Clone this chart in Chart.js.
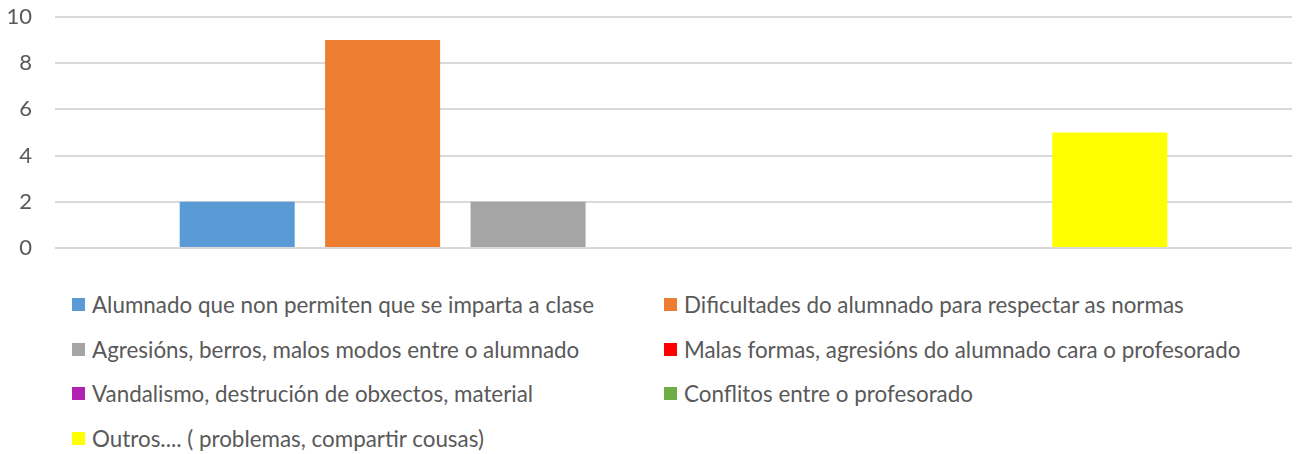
<!DOCTYPE html>
<html>
<head>
<meta charset="utf-8">
<script src="https://cdn.jsdelivr.net/npm/chart.js@4/dist/chart.umd.min.js"></script>
<style>
  html, body { margin: 0; padding: 0; background: #fff; }
  #wrap { position: relative; width: 1299px; height: 454px; }
  #chart { position: absolute; left: 0; top: 0; }
  #legend {
    position: absolute; left: 72px; top: 282px;
    display: grid; grid-template-columns: 592px 600px;
    grid-auto-rows: 44.7px;
    font-family: Lato, "Open Sans", sans-serif; font-size: 22.4px; color: #595959;
  }
  #legend .item { display: flex; align-items: center; white-space: nowrap; }
  #legend .box { width: 13px; height: 13px; margin-right: 7px; flex: none; }
</style>
</head>
<body>
<div id="wrap">
  <canvas id="chart" width="1299" height="275"></canvas>
  <div id="legend"></div>
</div>
<script>
// series names (one bar each)
var seriesNames = [
  "Alumnado que non permiten que se imparta a clase",
  "Dificultades do alumnado para respectar as normas",
  "Agresións, berros, malos modos entre o alumnado",
  "Malas formas, agresións do alumnado cara o profesorado",
  "Vandalismo, destrución de obxectos, material",
  "Conflitos entre o profesorado",
  "Outros.... ( problemas, compartir cousas)"
];
var seriesValues = [2, 9, 2, 0, 0, 0, 5];
var seriesColors = ["#5b9bd5", "#ed7d31", "#a5a5a5", "#ff0000", "#b222b2", "#70ad47", "#ffff00"];
var categories = [""];
var yTicks = [0, 2, 4, 6, 8, 10];

var datasets = [];
for (var i = 0; i < seriesNames.length; i++) {
  datasets.push({
    label: seriesNames[i],
    data: [seriesValues[i]],
    backgroundColor: seriesColors[i],
    borderWidth: 0,
    categoryPercentage: 0.823,
    barPercentage: 0.791
  });
}

var chart = new Chart(document.getElementById("chart"), {
  type: "bar",
  data: { labels: categories, datasets: datasets },
  options: {
    responsive: false,
    animation: false,
    layout: { padding: { left: 0, right: 7, top: 17, bottom: 27 } },
    plugins: { legend: { display: false }, tooltip: { enabled: false } },
    scales: {
      x: { display: false },
      y: {
        min: 0, max: 10,
        afterBuildTicks: function(scale) {
          scale.ticks = yTicks.map(function(v) { return { value: v }; });
        },
        afterFit: function(scale) {
          // fixed axis width, no extra top/bottom room for the labels
          scale.width = 55;
          scale.paddingTop = 0;
          scale.paddingBottom = 0;
        },
        border: { display: false },
        grid: { color: "#d9d9d9", lineWidth: 2, drawTicks: false },
        ticks: {
          padding: 23,
          color: "#595959",
          font: { family: "Lato, 'Open Sans', sans-serif", size: 22 }
        }
      }
    }
  }
});

// legend in two columns, built from the chart datasets
var legend = document.getElementById("legend");
chart.data.datasets.forEach(function(ds) {
  var item = document.createElement("div");
  item.className = "item";
  var box = document.createElement("span");
  box.className = "box";
  box.style.background = ds.backgroundColor;
  var txt = document.createElement("span");
  txt.textContent = ds.label;
  item.appendChild(box);
  item.appendChild(txt);
  legend.appendChild(item);
});
</script>
</body>
</html>
